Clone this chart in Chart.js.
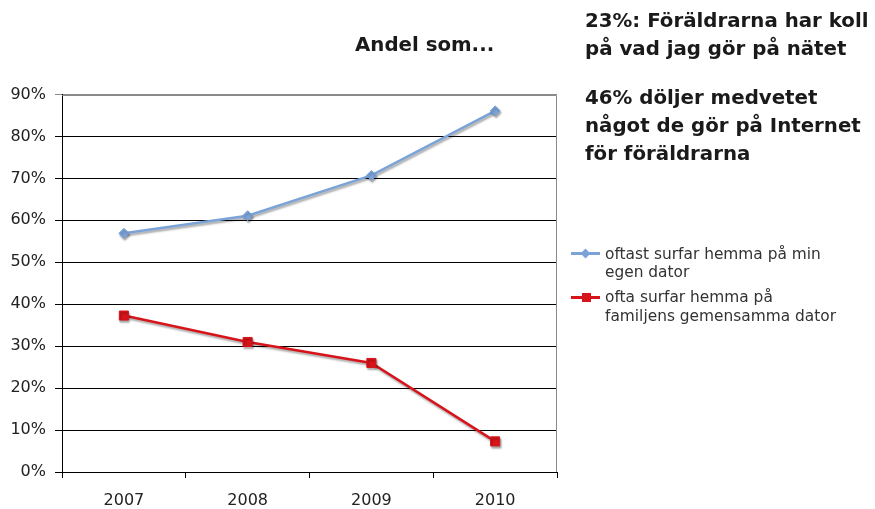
<!DOCTYPE html>
<html><head><meta charset="utf-8">
<script src="https://cdn.jsdelivr.net/npm/chart.js@4/dist/chart.umd.min.js"></script>
<style>
html,body{margin:0;padding:0;background:#fff;}
#wrap{position:relative;width:875px;height:509px;overflow:hidden;font-family:"DejaVu Sans",sans-serif;}
#c{position:absolute;left:0;top:0;}
.t{position:absolute;white-space:nowrap;color:#1a1a1a;font-weight:bold;font-size:19.8px;line-height:28px;}
.lg{position:absolute;white-space:nowrap;color:#333;font-size:15.4px;line-height:18.5px;}
.ln{position:absolute;}
</style></head>
<body><div id="wrap">
<canvas id="c" width="875" height="509"></canvas>
<div class="t" style="left:355px;top:31px;">Andel som...</div>
<div class="t" style="left:585px;top:7px;">23%: Föräldrarna har koll<br>på vad jag gör på nätet</div>
<div class="t" style="left:585px;top:84px;">46% döljer medvetet<br>något de gör på Internet<br>för föräldrarna</div>
<div class="ln" style="left:571px;top:252px;width:29px;height:2.5px;background:#7ba3d8;"></div>
<div class="ln" style="left:581.5px;top:249.5px;width:7px;height:7px;background:#7ba3d8;transform:rotate(45deg);"></div>
<div class="lg" style="left:605px;top:244.5px;">oftast surfar hemma på min<br>egen dator</div>
<div class="ln" style="left:571px;top:295.5px;width:29px;height:3px;background:#d7141a;"></div>
<div class="ln" style="left:582px;top:292.5px;width:9px;height:9px;background:#d7141a;"></div>
<div class="lg" style="left:605px;top:288px;">ofta surfar hemma på<br>familjens gemensamma dator</div>
</div>
<script>
const categories = ['2007','2008','2009','2010'];
const egenDator = [56.9, 61.1, 70.7, 86.1];
const familjensDator = [37.3, 31.0, 26.0, 7.3];
const seriesNames = ['oftast surfar hemma på min egen dator','ofta surfar hemma på familjens gemensamma dator'];
const yTicksMax = 90, yStep = 10;

const shadowPlugin = {
  id:'shadow',
  beforeDatasetDraw(chart){const c=chart.ctx;c.save();c.shadowColor='rgba(0,0,0,0.35)';c.shadowBlur=2;c.shadowOffsetX=1;c.shadowOffsetY=2;},
  afterDatasetDraw(chart){chart.ctx.restore();}
};
const borderPlugin = {
  id:'border',
  beforeDatasetsDraw(chart){
    const {ctx, chartArea:a} = chart;
    ctx.save();
    ctx.strokeStyle='#8a8a8a';ctx.lineWidth=1;
    ctx.beginPath();
    ctx.moveTo(a.left, Math.round(a.top)+0.5);
    ctx.lineTo(Math.round(a.right)-0.5, Math.round(a.top)+0.5);
    ctx.lineTo(Math.round(a.right)-0.5, a.bottom);
    ctx.stroke();
    ctx.restore();
  }
};

new Chart(document.getElementById('c'), {
  type:'line',
  data:{
    labels:categories,
    datasets:[
      {label:seriesNames[0],data:egenDator,borderColor:'#7ba3d8',backgroundColor:'#7ba3d8',borderWidth:2.5,pointStyle:'rectRot',pointRadius:5,pointBorderWidth:1,pointBorderColor:'#7ba3d8',pointBackgroundColor:'#7ba3d8',tension:0},
      {label:seriesNames[1],data:familjensDator,borderColor:'#d7141a',backgroundColor:'#d7141a',borderWidth:2.5,pointStyle:'rect',pointRadius:6.4,pointBorderWidth:1,pointBorderColor:'#d7141a',pointBackgroundColor:'#d7141a',tension:0}
    ]
  },
  options:{
    responsive:false,animation:false,devicePixelRatio:1,
    layout:{padding:{left:0,top:94.5,right:318,bottom:0}},
    plugins:{legend:{display:false},tooltip:{enabled:false},title:{display:false}},
    scales:{
      x:{
        offset:true,
        grid:{offset:true,drawOnChartArea:false,drawTicks:true,tickLength:6,color:'#000'},
        border:{color:'#000',width:1},
        ticks:{color:'#222',font:{family:'DejaVu Sans',size:16},padding:13},
        afterFit(s){s.height=37;}
      },
      y:{
        min:0,max:yTicksMax,
        grid:{color:(ctx)=>ctx.tick && ctx.tick.value>=yTicksMax ? '#8a8a8a' : '#000',tickLength:7,lineWidth:1},
        border:{color:'#000',width:1},
        ticks:{stepSize:yStep,color:'#222',font:{family:'DejaVu Sans',size:16},padding:9,callback:v=>v+'%'},
        afterFit(s){s.width=62;}
      }
    }
  },
  plugins:[shadowPlugin,borderPlugin]
});
</script>
</body></html>
